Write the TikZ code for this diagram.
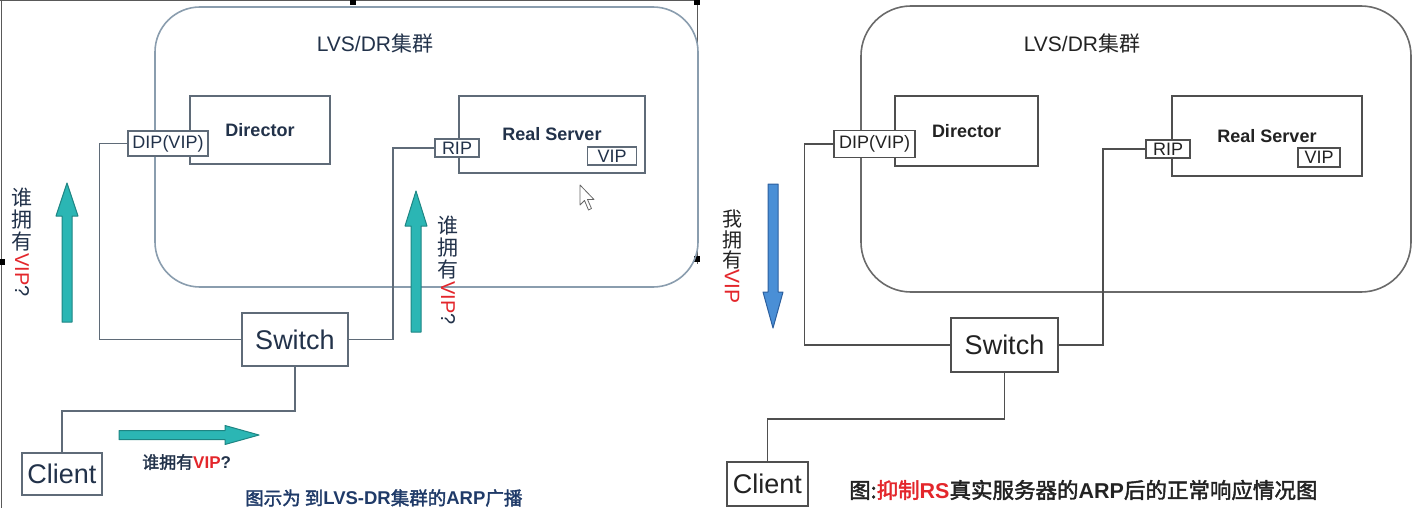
\documentclass[tikz,border=0pt]{standalone}
\usepackage{fontspec}
\setmainfont{Liberation Sans}
\newfontfamily\cjk{Noto Sans CJK SC}
\newfontfamily\cjkb[FakeBold=2]{Noto Sans CJK SC}
\newcommand\fsz[1]{\fontsize{#1}{#1}\selectfont}
\definecolor{lwc}{HTML}{5F6B78}
\definecolor{rwc}{HTML}{4F4F4F}
\definecolor{lclc}{HTML}{8A9DAE}
\definecolor{rclc}{HTML}{6A6A6A}
\definecolor{lnavy}{HTML}{22324A}
\definecolor{capnavy}{HTML}{1F3A68}
\definecolor{rtxt}{HTML}{222222}
\definecolor{vred}{HTML}{E3262B}
\definecolor{tealf}{HTML}{2BB6B4}
\definecolor{teald}{HTML}{1E8583}
\definecolor{bluef}{HTML}{4A8FD6}
\definecolor{blued}{HTML}{2C5F9E}
\begin{document}
\begin{tikzpicture}[x=1pt,y=-1pt,
  lwire/.style={draw=lwc,line width=1.5pt},
  rwire/.style={draw=rwc,line width=1.5pt},
  lbox/.style={draw=lwc,line width=1.5pt,fill=white,inner sep=0pt,text=lnavy},
  rbox/.style={draw=rwc,line width=1.5pt,fill=white,inner sep=0pt,text=rtxt},
  lbl/.style={inner sep=0pt},
  tealarrow/.style={fill=tealf,draw=teald,line width=1pt,line join=round},
  bluearrow/.style={fill=bluef,draw=blued,line width=1pt,line join=round},
]
\useasboundingbox (0,0) rectangle (1422,519);

% ---------- screenshot frame of the left panel ----------
\draw[black!65,line width=0.8pt] (0,0.6) -- (697,0.6);
\draw[black!65,line width=0.8pt] (1.5,0) -- (1.5,508);
\draw[black!65,line width=0.8pt] (697,0) -- (697,264);
\fill[black] (350,0) rectangle (356,5);
\fill[black] (694,0) rectangle (700,5);
\fill[black] (694,256) rectangle (700,262);
\fill[black] (0,259) rectangle (5,265);

% ================= LEFT PANEL =================
\node[draw=lclc,line width=1.6pt,rounded corners=45pt,minimum width=543pt,minimum height=280pt,inner sep=0pt] (lclus) at (426.5,147) {};
\node[lbl,text=lnavy] (llvs) at (375,43) {\fsz{21}LVS/DR{\cjk 集群}};

\node[lbox,minimum width=140pt,minimum height=68pt] (ldir) at (260,130) {\fsz{18}\bfseries Director};
\node[lbox,minimum width=186pt,minimum height=77pt] (lrs) at (552,134.5) {\fsz{18}\bfseries Real Server};
\node[lbox,minimum width=106pt,minimum height=53pt] (lsw) at (295,339.5) {\fsz{27}Switch};
\node[lbox,minimum width=80pt,minimum height=42pt] (lcl) at (62,474) {\fsz{27}Client};
\node[lbox,minimum width=80pt,minimum height=25pt] (ldip) at (168,143.5) {\fsz{18}DIP(VIP)};
\node[lbox,minimum width=44pt,minimum height=18pt] (lrip) at (457,148) {\fsz{18}RIP};
\node[lbox,minimum width=49pt,minimum height=18pt] (lvip) at (612,156) {\fsz{18}VIP};

\draw[lwire] (ldip.west) -- ++(-28,0) |- (lsw.west);
\draw[lwire] (lsw.east) -- ++(44,0) |- (lrip.west);
\draw[lwire] (lsw.south) -- ++(0,44) -| (lcl.north);

% teal arrows
\draw[tealarrow] (62,322) -- (62,216) -- (56,216) -- (67,183) -- (78,216) -- (72,216) -- (72,322) -- cycle;
\draw[tealarrow] (411,332) -- (411,226) -- (405,226) -- (416,191) -- (427,226) -- (421,226) -- (421,332) -- cycle;
\draw[tealarrow] (119,430.5) -- (225,430.5) -- (225,425.5) -- (259,435) -- (225,444.5) -- (225,439.5) -- (119,439.5) -- cycle;

% vertical question 1
\node[lbl,text=lnavy] (q1a) at (22,198) {\fsz{21}\cjk 谁};
\node[lbl,text=lnavy] (q1b) at (22,220) {\fsz{21}\cjk 拥};
\node[lbl,text=lnavy] (q1c) at (22,242) {\fsz{21}\cjk 有};
\node[lbl,rotate=-90,anchor=west] (q1d) at (22,253) {\fsz{20}\textcolor{vred}{VIP}\textcolor{lnavy}{?}};
% vertical question 2
\node[lbl,text=lnavy] (q2a) at (448,226) {\fsz{21}\cjk 谁};
\node[lbl,text=lnavy] (q2b) at (448,248) {\fsz{21}\cjk 拥};
\node[lbl,text=lnavy] (q2c) at (448,270) {\fsz{21}\cjk 有};
\node[lbl,rotate=-90,anchor=west] (q2d) at (448,281) {\fsz{20}\textcolor{vred}{VIP}\textcolor{lnavy}{?}};
% horizontal question
\node[lbl,anchor=west] (q3) at (142,462) {\fsz{17}\textcolor{lnavy}{\cjkb 谁拥有}\textcolor{vred}{\bfseries VIP}\textcolor{lnavy}{\bfseries ?}};
% caption
\node[lbl,anchor=west,text=capnavy] (lcap) at (245,498) {\fsz{18.5}{\cjkb 图示为 到}\textbf{LVS-DR}{\cjkb 集群的}\textbf{ARP}{\cjkb 广播}};

% mouse pointer
\draw[fill=white,draw=black!60,line width=0.8pt,line join=round] (580,185) -- (580,205) -- (584.5,200.5) -- (588.5,210) -- (591.5,208.5) -- (587.5,199.5) -- (594,199.5) -- cycle;

% ================= RIGHT PANEL =================
\node[draw=rclc,line width=1.6pt,rounded corners=50pt,minimum width=550pt,minimum height=286pt,inner sep=0pt] (rclus) at (1136,149) {};
\node[lbl,text=rtxt] (rlvs) at (1082,43) {\fsz{21}LVS/DR{\cjk 集群}};

\node[rbox,minimum width=143pt,minimum height=70pt] (rdir) at (966.5,131) {\fsz{18}\bfseries Director};
\node[rbox,minimum width=190pt,minimum height=80pt] (rrs) at (1267,136) {\fsz{18}\bfseries Real Server};
\node[rbox,minimum width=107pt,minimum height=54pt] (rsw) at (1004.5,345) {\fsz{27}Switch};
\node[rbox,minimum width=81pt,minimum height=44pt] (rcl) at (767.5,484) {\fsz{27}Client};
\node[rbox,minimum width=81pt,minimum height=27pt] (rdip) at (874.5,144) {\fsz{18}DIP(VIP)};
\node[rbox,minimum width=44pt,minimum height=18pt] (rrip) at (1168,149) {\fsz{18}RIP};
\node[rbox,minimum width=42pt,minimum height=19pt] (rvip) at (1319,157.5) {\fsz{18}VIP};

\draw[rwire] (rdip.west) -- ++(-29,0) |- (rsw.west);
\draw[rwire] (rsw.east) -- ++(44,0) |- (rrip.west);
\draw[rwire] (rsw.south) -- ++(0,46) -| (rcl.north);

% blue arrow
\draw[bluearrow] (768,184) -- (778,184) -- (778,292) -- (783,292) -- (773,328) -- (763,292) -- (768,292) -- cycle;
\node[lbl,text=rtxt] (r1a) at (732,219) {\fsz{20}\cjk 我};
\node[lbl,text=rtxt] (r1b) at (732,240) {\fsz{20}\cjk 拥};
\node[lbl,text=rtxt] (r1c) at (732,260) {\fsz{20}\cjk 有};
\node[lbl,rotate=-90,anchor=west,text=vred] (r1d) at (732,269) {\fsz{21}VIP};

% caption
\node[lbl,anchor=west,text=rtxt] (rcap) at (849,490) {\fsz{21.5}{\cjkb 图:}\textcolor{vred}{{\cjkb 抑制}\textbf{RS}}{\cjkb 真实服务器的}\textbf{ARP}{\cjkb 后的正常响应情况图}};
\end{tikzpicture}
\end{document}
